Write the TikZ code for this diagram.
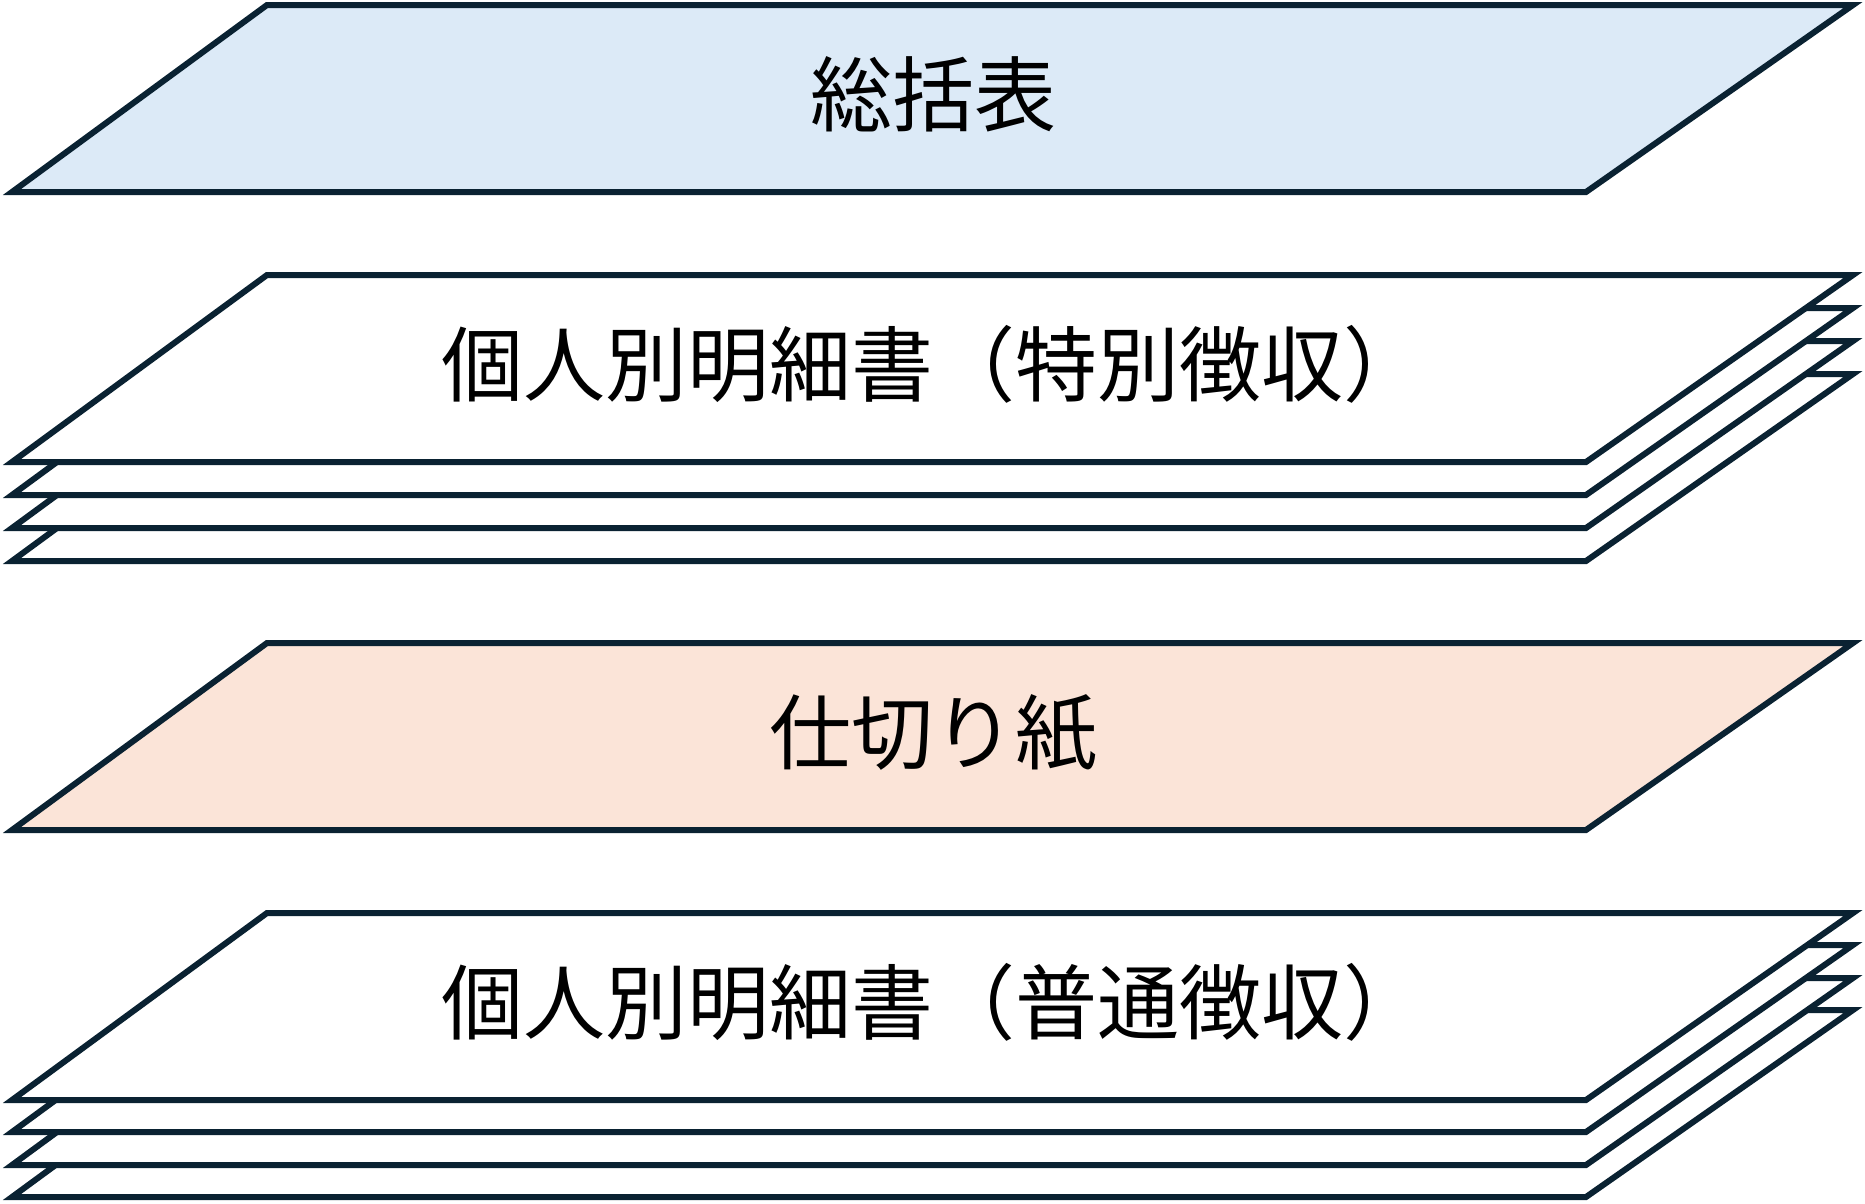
\documentclass[tikz,border=0pt]{standalone}
\usepackage{fontspec}
\setmainfont{Noto Sans CJK JP}
\definecolor{sheetLine}{HTML}{0A2232}
\definecolor{sheetBlue}{HTML}{DCEAF7}
\definecolor{sheetPeach}{HTML}{FBE4D8}
\usetikzlibrary{positioning}
\tikzset{
  sheetedge/.style={draw=sheetLine, line width=6pt, line join=miter},
  sheetlabel/.style={font=\fontsize{82}{90}\selectfont, text=black, inner sep=0pt},
  pics/sheet/.style={code={
    \filldraw[sheetedge, fill=#1] (12,187) -- (1586,187) -- (1853,0) -- (267,0) -- cycle;
  }}
}

\begin{document}
\begin{tikzpicture}[x=1pt, y=-1pt]
\useasboundingbox (0,0) rectangle (1865,1203);
% summary sheet
\pic at (0,5) {sheet=sheetBlue};
\node[sheetlabel] (summary) at (933,94) {総括表};
% statements, special collection (stack of four)
\foreach \dy in {99,66,33,0}
  \pic at (0,275+\dy) {sheet=white};
\node[sheetlabel] (special) at (933,364) {個人別明細書（特別徴収）};
% divider sheet
\pic at (0,643) {sheet=sheetPeach};
\node[sheetlabel] (divider) at (933,733) {仕切り紙};
% statements, ordinary collection (stack of four)
\foreach \dy in {97,65,32,0}
  \pic at (0,913+\dy) {sheet=white};
\node[sheetlabel] (ordinary) at (933,1002) {個人別明細書（普通徴収）};
\end{tikzpicture}
\end{document}
